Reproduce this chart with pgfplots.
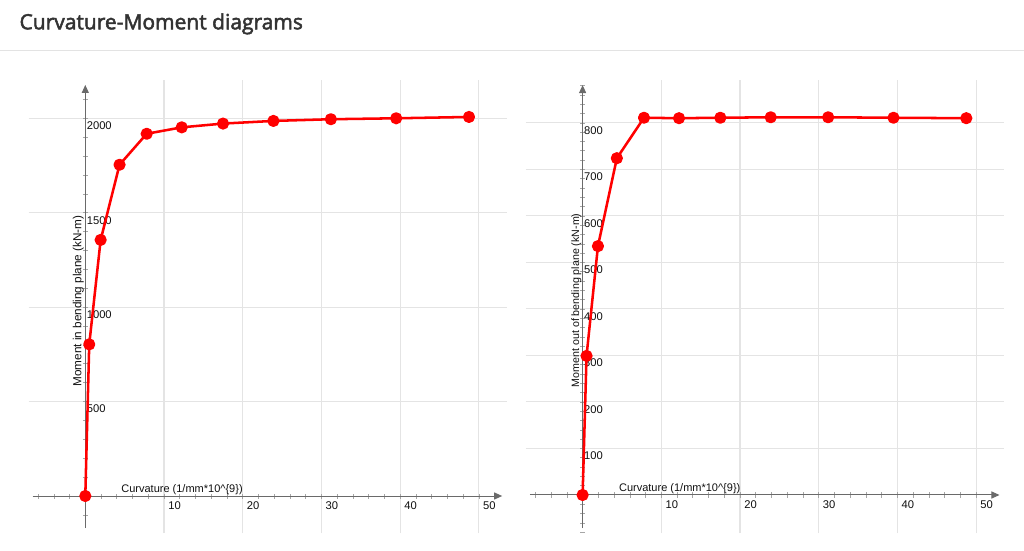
\documentclass[border=0pt]{standalone}
\usepackage{fontspec}
\setmainfont{Liberation Sans}
\newfontfamily\titlefont{Open Sans}[FakeBold=2.4]
\usepackage{pgfplots}
\pgfplotsset{compat=1.18}
\usetikzlibrary{arrows.meta}
\definecolor{gridc}{HTML}{E4E4E4}
\definecolor{axc}{HTML}{6A6A6A}
\definecolor{txt}{HTML}{111111}
\definecolor{ttl}{HTML}{333333}
\definecolor{sepc}{HTML}{E3E3E3}

\pgfplotstableread{
x y
0 0
0.5 803
1.95 1356
4.35 1754
7.8 1918
12.25 1952
17.5 1972
23.9 1986
31.2 1995
39.5 2000
48.75 2007
}\leftdata
\pgfplotstableread{
x y
0 0
0.5 299
1.95 535
4.35 724
7.8 811
12.25 810
17.5 811
23.9 812
31.2 812
39.5 811
48.75 810
}\rightdata

\pgfplotsset{cm/.style={
  scale only axis, width=358.9pt, height=339.8pt,
  axis lines=middle,
  axis line style={draw=axc, line width=0.75pt},
  every inner x axis line/.append style={-{Triangle[length=6pt,width=5.25pt]}, shorten >=3.75pt, shorten <=3pt},
  every inner y axis line/.append style={-{Triangle[length=6pt,width=5.25pt]}, shorten >=3.75pt, shorten <=3.75pt},
  xmin=-7.2, xmax=53.6,
  xtick={10,20,30,40,50},
  minor xtick={-6,-4,-2,2,4,6,8,10,12,14,16,18,20,22,24,26,28,30,32,34,36,38,40,42,44,46,48,50,52},
  grid=major,
  major grid style={draw=gridc, line width=0.8pt},
  tick align=center,
  major tick length=3.75pt, minor tick length=3.75pt,
  tick style={draw=axc!60, line width=0.45pt},
  tick label style={font=\fontsize{8.4pt}{10pt}\selectfont, text=txt, inner sep=0pt},
  xticklabel style={anchor=north west, xshift=3pt, yshift=-2pt},
  yticklabel style={anchor=north west, xshift=2.8pt, yshift=-2.5pt},
  /pgf/number format/1000 sep={},
  /pgf/number format/assume math mode=true,
  clip=false,
  anchor=origin,
}}
\tikzset{curve/.style={color=red, line width=1.9pt, line join=round, mark=*, mark size=3.6pt, mark options={solid, fill=red, draw=none}}}

\begin{document}
\begin{tikzpicture}[x=0.75pt,y=0.75pt]
\path[use as bounding box, fill=white] (0,0) rectangle (1024,550);
\node[anchor=base west, inner sep=0pt, font=\titlefont\fontsize{15.75pt}{18pt}\selectfont, text=ttl] at (19.3,520.7) {Curvature-Moment diagrams};
\draw[sepc, line width=0.75pt] (0,499) -- (1024,499);

\begin{axis}[cm, at={(63.975pt,40.5pt)},
  ymin=-196, ymax=2203,
  ytick={500,1000,1500,2000},
  minor ytick={-100,100,200,300,400,600,700,800,900,1100,1200,1300,1400,1600,1700,1800,1900,2100},
]
\addplot[curve] table[x=x,y=y] {\leftdata};
\node[anchor=base west, inner sep=0pt, yshift=2.6pt, font=\fontsize{8.25pt}{10pt}\selectfont, text=txt] at (axis cs:4.55,0) {Curvature (1/mm*10\^{}\{9\})};
\node[rotate=90, inner sep=0pt, font=\fontsize{8.8pt}{10pt}\selectfont, text=txt] at (axis cs:-0.87,1032) {Moment in bending plane (kN-m)};
\end{axis}

\begin{axis}[cm, at={(436.95pt,41.25pt)},
  ymin=-82, ymax=892,
  ytick={100,200,300,400,500,600,700,800},
  minor ytick={-80,-60,-40,-20,20,40,60,80,120,140,160,180,220,240,260,280,320,340,360,380,420,440,460,480,520,540,560,580,620,640,660,680,720,740,760,780,820,840,860,880},
]
\addplot[curve] table[x=x,y=y] {\rightdata};
\node[anchor=base west, inner sep=0pt, yshift=2.6pt, font=\fontsize{8.25pt}{10pt}\selectfont, text=txt] at (axis cs:4.6,0) {Curvature (1/mm*10\^{}\{9\})};
\node[rotate=90, inner sep=0pt, font=\fontsize{8pt}{10pt}\selectfont, text=txt] at (axis cs:-0.8,418.6) {Moment out of bending plane (kN-m)};
\end{axis}
\end{tikzpicture}
\end{document}
